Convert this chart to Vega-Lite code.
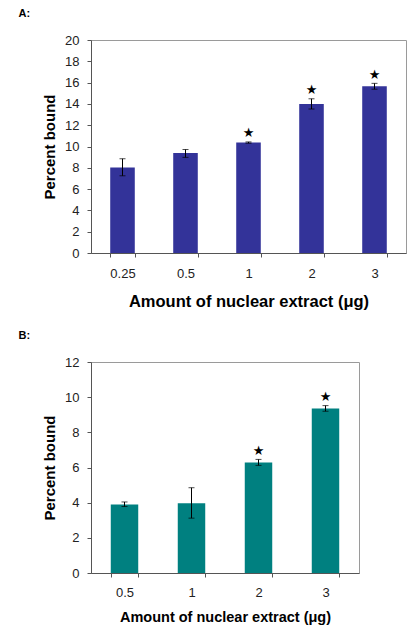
{
  "$schema": "https://vega.github.io/schema/vega-lite/v6.json",
  "padding": {"left": 18, "top": 7, "right": 5, "bottom": 5},
  "background": "white",
  "config": {
    "font": "Liberation Sans",
    "view": {"stroke": "#9a9a9a", "strokeWidth": 1},
    "axis": {"domainColor": "#555555", "tickColor": "#555555", "labelColor": "#222222", "titleColor": "#000000", "labelFont": "Liberation Sans", "titleFont": "Liberation Sans", "labelFontSize": 13, "grid": false, "tickSize": 4, "titleFontWeight": "bold", "labelOverlap": false, "labelFlush": false},
    "title": {"font": "Liberation Sans", "fontSize": 11, "fontWeight": "bold", "anchor": "start", "frame": "bounds", "color": "#000000"},
    "concat": {"spacing": 19}
  },
  "datasets": {
    "A": [
      {"amount": "0.25", "bound": 8.03, "lo": 7.25, "hi": 8.85, "sig": false},
      {"amount": "0.5", "bound": 9.38, "lo": 8.98, "hi": 9.72, "sig": false},
      {"amount": "1", "bound": 10.37, "lo": 10.31, "hi": 10.43, "sig": true},
      {"amount": "2", "bound": 14.0, "lo": 13.52, "hi": 14.48, "sig": true},
      {"amount": "3", "bound": 15.65, "lo": 15.38, "hi": 15.93, "sig": true}
    ],
    "B": [
      {"amount": "0.5", "bound": 3.9, "lo": 3.78, "hi": 4.04, "sig": false},
      {"amount": "1", "bound": 3.97, "lo": 3.12, "hi": 4.85, "sig": false},
      {"amount": "2", "bound": 6.29, "lo": 6.12, "hi": 6.46, "sig": true},
      {"amount": "3", "bound": 9.36, "lo": 9.2, "hi": 9.52, "sig": true}
    ]
  },
  "vconcat": [
    {
      "title": {"text": "A:", "dx": -24, "offset": 15},
      "width": 315,
      "height": 213,
      "data": {"name": "A"},
      "encoding": {
        "x": {"field": "amount", "type": "ordinal", "sort": null,
          "scale": {"paddingInner": 0.61, "paddingOuter": 0.305},
          "axis": {"title": "Amount of nuclear extract (μg)", "labelAngle": 0, "tickBand": "extent", "labelPadding": 10, "titlePadding": 13, "titleFontSize": 16.5}},
        "y": {"type": "quantitative", "scale": {"domain": [0, 20]},
          "axis": {"title": "Percent bound", "values": [0,2,4,6,8,10,12,14,16,18,20], "labelOverlap": false, "labelPadding": 8, "titlePadding": 7, "titleFontSize": 15}}
      },
      "layer": [
        {"mark": {"type": "bar", "color": "#333399"},
         "encoding": {"y": {"field": "bound"}}},
        {"mark": {"type": "rule", "color": "#000000", "strokeWidth": 1},
         "encoding": {"y": {"field": "lo"}, "y2": {"field": "hi"}}},
        {"mark": {"type": "tick", "color": "#000000", "size": 6, "thickness": 1},
         "encoding": {"y": {"field": "hi"}}},
        {"mark": {"type": "tick", "color": "#000000", "size": 6, "thickness": 1},
         "encoding": {"y": {"field": "lo"}}},
        {"transform": [{"filter": "datum.sig"}],
         "mark": {"type": "text", "text": "★", "fontSize": 13, "dy": -8.5, "baseline": "middle", "color": "#000000", "font": "DejaVu Sans"},
         "encoding": {"y": {"field": "hi"}}}
      ]
    },
    {
      "title": {"text": "B:", "dx": -24, "offset": 15},
      "width": 268,
      "height": 211,
      "data": {"name": "B"},
      "encoding": {
        "x": {"field": "amount", "type": "ordinal", "sort": null,
          "scale": {"paddingInner": 0.59, "paddingOuter": 0.295},
          "axis": {"title": "Amount of nuclear extract (μg)", "labelAngle": 0, "tickBand": "extent", "labelPadding": 9, "titlePadding": 11, "titleFontSize": 14.5}},
        "y": {"type": "quantitative", "scale": {"domain": [0, 12]},
          "axis": {"title": "Percent bound", "values": [0,2,4,6,8,10,12], "labelOverlap": false, "labelPadding": 8, "titlePadding": 7, "titleFontSize": 15}}
      },
      "layer": [
        {"mark": {"type": "bar", "color": "#008080"},
         "encoding": {"y": {"field": "bound"}}},
        {"mark": {"type": "rule", "color": "#000000", "strokeWidth": 1},
         "encoding": {"y": {"field": "lo"}, "y2": {"field": "hi"}}},
        {"mark": {"type": "tick", "color": "#000000", "size": 6, "thickness": 1},
         "encoding": {"y": {"field": "hi"}}},
        {"mark": {"type": "tick", "color": "#000000", "size": 6, "thickness": 1},
         "encoding": {"y": {"field": "lo"}}},
        {"transform": [{"filter": "datum.sig"}],
         "mark": {"type": "text", "text": "★", "fontSize": 13, "dy": -8.5, "baseline": "middle", "color": "#000000", "font": "DejaVu Sans"},
         "encoding": {"y": {"field": "hi"}}}
      ]
    }
  ]
}
